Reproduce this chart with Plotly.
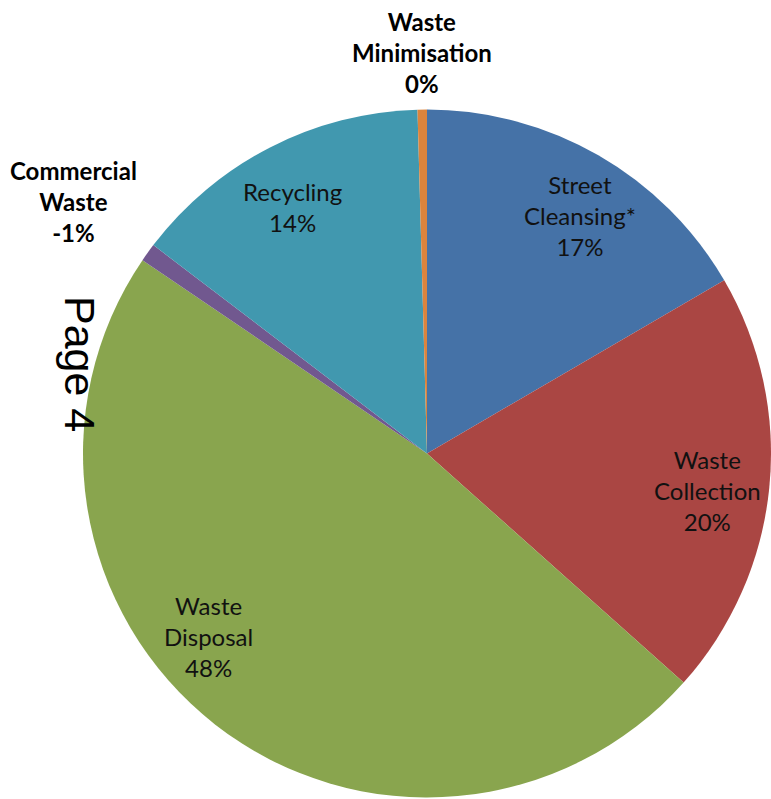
import plotly.graph_objects as go

W, H = 771, 799

# Data (share of spend, slice sizes)
categories = ["Street Cleansing*", "Waste Collection", "Waste Disposal",
              "Commercial Waste", "Recycling", "Waste Minimisation"]
slice_values = [16.6, 20.0, 47.9, 0.86, 14.2, 0.44]
label_pct = ["17%", "20%", "48%", "-1%", "14%", "0%"]
colors = ["#4572A7", "#AA4643", "#89A54E", "#71588F", "#4198AF", "#DB843D"]

fig = go.Figure(go.Pie(
    labels=categories,
    values=slice_values,
    sort=False,
    direction="clockwise",
    rotation=0,
    marker=dict(colors=colors, line=dict(width=0)),
    textinfo="none",
    hoverinfo="label+percent",
    showlegend=False,
    domain=dict(x=[83 / W, 1.0], y=[0.0, 1 - (453 - 345) / H]),
))

def px(x, y):
    return x / W, 1 - y / H

# label placement (pixel centres) and style
label_pos = [(580, 215), (707, 490), (208, 636), (73, 201), (292, 207), (422, 53)]
label_bold = [False, False, False, True, False, True]
label_text = ["Street<br>Cleansing*", "Waste<br>Collection", "Waste<br>Disposal",
              "Commercial<br>Waste", "Recycling", "Waste<br>Minimisation"]

annotations = []
for name, pct, (lx, ly), bold in zip(label_text, label_pct, label_pos, label_bold):
    ax, ay = px(lx, ly)
    txt = f"{name}<br>{pct}"
    if bold:
        txt = f"<b>{txt}</b>"
    annotations.append(dict(
        x=ax, y=ay, xref="paper", yref="paper", text=txt, showarrow=False,
        xanchor="center", yanchor="middle", align="center",
        font=dict(family="Lato", size=24,
                  color="#111111" if not bold else "#000000"),
    ))

# rotated page marker
ax, ay = px(80, 364)
annotations.append(dict(
    x=ax, y=ay, xref="paper", yref="paper", text="Page 4", showarrow=False,
    textangle=90, xanchor="center", yanchor="middle",
    font=dict(family="Liberation Sans", size=43, color="#000000"),
))

fig.update_layout(
    width=W, height=H,
    margin=dict(l=0, r=0, t=0, b=0),
    paper_bgcolor="white",
    plot_bgcolor="white",
    annotations=annotations,
)

fig.write_html(
    "out.html",
    config={"displayModeBar": False},
    post_script="document.body.style.margin='0';document.body.style.overflow='hidden';",
)
